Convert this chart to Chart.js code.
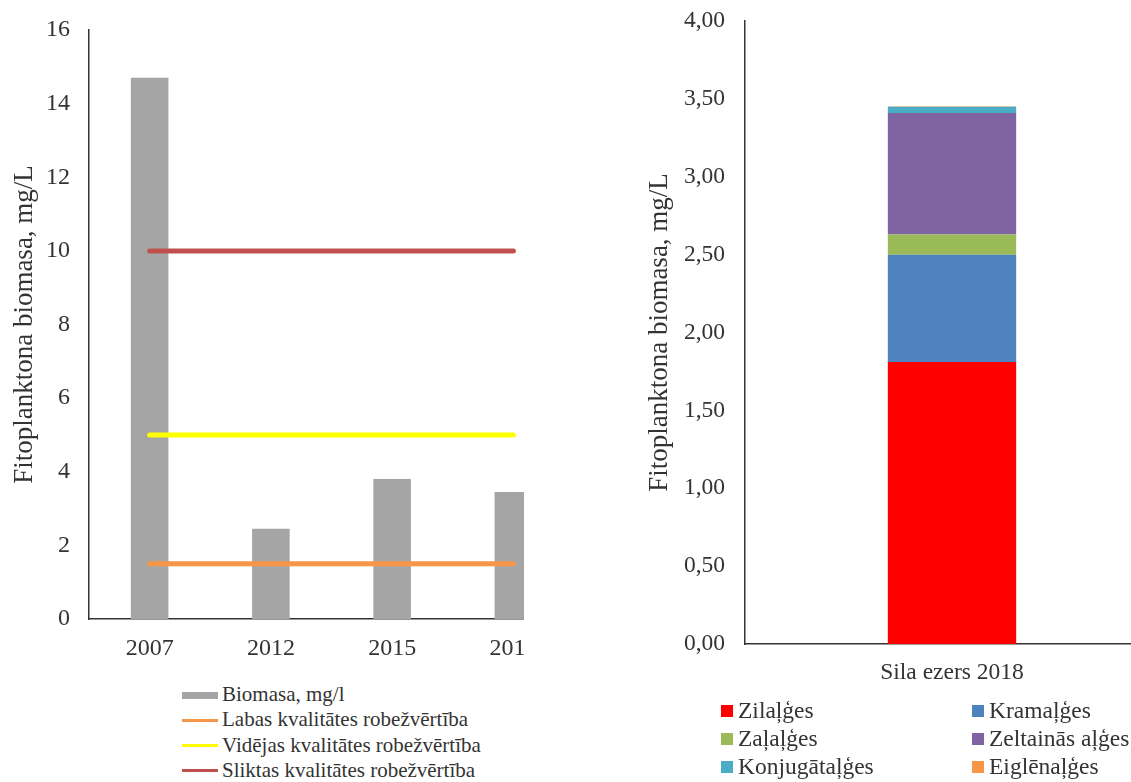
<!DOCTYPE html>
<html>
<head>
<meta charset="utf-8">
<script src="https://cdn.jsdelivr.net/npm/chart.js@4/dist/chart.umd.min.js"></script>
<style>
  html, body { margin:0; padding:0; background:#fff; width:1131px; height:782px; overflow:hidden; }
  body { position:relative; font-family:'Liberation Serif','Times New Roman',serif; color:#333; }
  #leftBox { position:absolute; left:0; top:0; width:524px; height:670px; overflow:hidden; }
  #leftBox canvas, #rightBox canvas { position:absolute; left:0; top:0; }
  #rightBox { position:absolute; left:640px; top:0; width:540px; height:700px; }
  .lg { position:absolute; white-space:nowrap; }
  .lg div { position:relative; }
  .sym { position:absolute; left:0; width:36px; }
  .sq { position:absolute; width:12px; height:12px; }
</style>
</head>
<body>
<div id="leftBox"><canvas id="chartLeft" width="600" height="670"></canvas></div>
<div id="rightBox"><canvas id="chartRight" width="540" height="700"></canvas></div>
<div id="legendLeft" class="lg" style="left:182px; top:682px; font-size:21px; line-height:25.3px;"></div>
<div id="legendRight" class="lg" style="left:721px; top:696px; width:410px; overflow:hidden; font-size:23.5px; line-height:28px;"></div>
<script>
// left chart: biomass by year + quality thresholds
const years = ['2007', '2012', '2015', '2018'];
const biomasa = [14.7, 2.45, 3.8, 3.45];
const labasLimit = [1.5, 1.5, 1.5, 1.5];
const videjasLimit = [5, 5, 5, 5];
const sliktasLimit = [10, 10, 10, 10];
const leftNames = ['Biomasa, mg/l', 'Labas kvalitātes robežvērtība', 'Vidējas kvalitātes robežvērtība', 'Sliktas kvalitātes robežvērtība'];
const leftColors = ['#a5a5a5', '#f79646', '#ffff00', '#c0504d'];

// right chart: composition of phytoplankton 2018
const lakes = ['Sila ezers 2018'];
const groupNames = ['Zilaļģes', 'Kramaļģes', 'Zaļaļģes', 'Zeltainās aļģes', 'Konjugātaļģes', 'Eiglēnaļģes'];
const groupValues = [1.81, 0.69, 0.13, 0.78, 0.04, 0.002];
const groupColors = ['#ff0000', '#4f81bd', '#9bbb59', '#8064a2', '#4bacc6', '#f79646'];

const FONT = "'Liberation Serif','Times New Roman',serif";
const TXT = '#333';

// force the axis boxes so the plot areas land where the original has them
function fixWidth(w){ return s => { s.width = w; s.paddingTop = 0; s.paddingBottom = 0; }; }
function fixHeight(h){ return s => { s.height = h; s.paddingLeft = 0; s.paddingRight = 0; }; }

const lineDs = (i, data) => ({
  type:'line', label:leftNames[i], data, borderColor:leftColors[i], backgroundColor:leftColors[i],
  borderWidth:5, pointRadius:0, borderCapStyle:'round', order:1
});

new Chart(document.getElementById('chartLeft'), {
  type:'bar',
  data:{ labels:years, datasets:[
    { label:leftNames[0], data:biomasa, backgroundColor:leftColors[0], barPercentage:0.31, categoryPercentage:1, order:2 },
    lineDs(1, labasLimit), lineDs(2, videjasLimit), lineDs(3, sliktasLimit)
  ]},
  options:{
    responsive:false, animation:false,
    layout:{ padding:{ top:30, right:26, left:0, bottom:0 } },
    plugins:{ legend:{ display:false }, tooltip:{ enabled:false } },
    scales:{
      x:{ grid:{ display:false, drawTicks:false }, border:{ display:true, color:'#333', width:1.5 },
          ticks:{ color:TXT, font:{ family:FONT, size:24 }, padding:15, maxRotation:0, autoSkip:false }, afterFit:fixHeight(51) },
      y:{ min:0, max:16, grid:{ display:false, drawTicks:false }, border:{ display:true, color:'#333', width:1.5 },
          ticks:{ stepSize:2, color:TXT, font:{ family:FONT, size:24 }, padding:19 },
          title:{ display:true, text:'Fitoplanktona biomasa, mg/L', color:TXT, font:{ family:FONT, size:27 }, padding:{ top:9, bottom:0 } },
          afterFit:fixWidth(89) }
    }
  }
});

new Chart(document.getElementById('chartRight'), {
  type:'bar',
  data:{ labels:lakes, datasets:groupNames.map((n,i)=>({
    label:n, data:[groupValues[i]], backgroundColor:groupColors[i], barPercentage:0.31, categoryPercentage:1
  }))},
  options:{
    responsive:false, animation:false,
    layout:{ padding:{ top:21, right:21, left:0, bottom:0 } },
    plugins:{ legend:{ display:false }, tooltip:{ enabled:false } },
    scales:{
      x:{ stacked:true, grid:{ display:false, drawTicks:false }, border:{ display:true, color:'#333', width:1.5 },
          ticks:{ color:TXT, font:{ family:FONT, size:23.5 }, padding:15 }, afterFit:fixHeight(56) },
      y:{ stacked:true, min:0, max:4, grid:{ display:false, drawTicks:false }, border:{ display:true, color:'#333', width:1.5 },
          ticks:{ stepSize:0.5, color:TXT, font:{ family:FONT, size:23.5 }, padding:20,
                  callback:v => v.toFixed(2).replace('.', ',') },
          title:{ display:true, text:'Fitoplanktona biomasa, mg/L', color:TXT, font:{ family:FONT, size:27 }, padding:{ top:4, bottom:0 } },
          afterFit:fixWidth(105) }
    }
  }
});

// legends (html so the columns line up like the original)
const legL = document.getElementById('legendLeft');
legL.innerHTML = leftNames.map((n,i)=>{
  const h = i === 0 ? 7 : 3;
  return `<div><span class="sym" style="top:${13-h/2}px;height:${h}px;background:${leftColors[i]}"></span><span style="margin-left:40px">${n}</span></div>`;
}).join('');

const legR = document.getElementById('legendRight');
let rows = '';
for(let i=0;i<groupNames.length;i+=2){
  rows += '<div style="height:28px">';
  [i, i+1].forEach((k, c) => {
    const x = c * 251;
    rows += `<span class="sq" style="left:${x}px;top:9px;background:${groupColors[k]}"></span><span style="position:absolute;left:${x+17}px">${groupNames[k]}</span>`;
  });
  rows += '</div>';
}
legR.innerHTML = rows;
</script>
</body>
</html>
